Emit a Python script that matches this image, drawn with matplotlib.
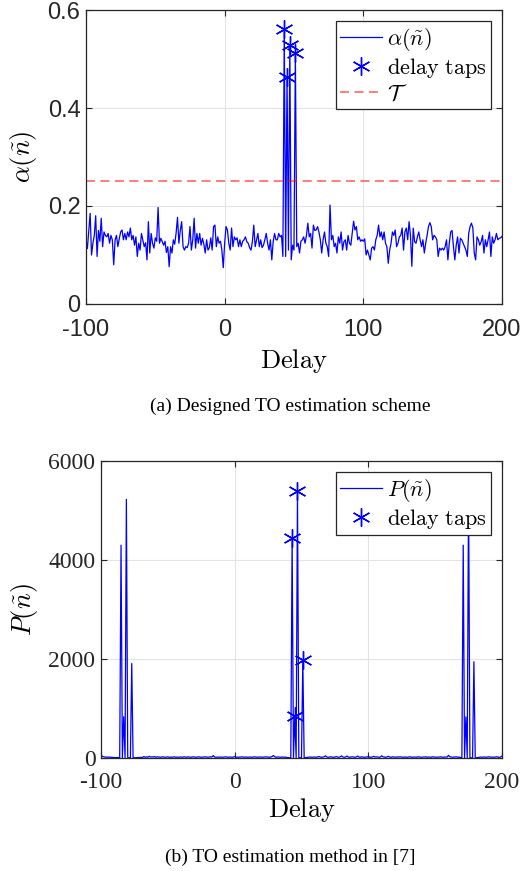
import matplotlib
matplotlib.use('Agg')
import matplotlib.pyplot as plt
import numpy as np

# =============================================================================
# Data
# =============================================================================
delay = np.arange(-100, 201)

# alpha(n~), designed scheme, delays -100 .. 200
alpha = [
    0.131, 0.113, 0.150, 0.185, 0.100, 0.124, 0.140, 0.180, 0.097, 0.150,  # -100
    0.128, 0.175, 0.117, 0.147, 0.140, 0.137, 0.144, 0.124, 0.140, 0.131,  # -90
    0.080, 0.131, 0.140, 0.117, 0.133, 0.147, 0.151, 0.131, 0.144, 0.131,  # -80
    0.147, 0.137, 0.155, 0.131, 0.140, 0.120, 0.137, 0.097, 0.124, 0.110,  # -70
    0.144, 0.131, 0.117, 0.125, 0.090, 0.168, 0.104, 0.144, 0.124, 0.114,  # -60
    0.135, 0.128, 0.197, 0.124, 0.134, 0.127, 0.120, 0.128, 0.105, 0.117,  # -50
    0.076, 0.117, 0.104, 0.131, 0.122, 0.145, 0.177, 0.124, 0.150, 0.168,  # -40
    0.117, 0.110, 0.117, 0.115, 0.124, 0.158, 0.110, 0.131, 0.175, 0.114,  # -30
    0.144, 0.124, 0.144, 0.120, 0.134, 0.122, 0.104, 0.131, 0.110, 0.115,  # -20
    0.135, 0.110, 0.158, 0.161, 0.117, 0.137, 0.124, 0.128, 0.110, 0.074,  # -10
    0.124, 0.158, 0.151, 0.124, 0.110, 0.155, 0.117, 0.137, 0.131, 0.135,  # 0
    0.117, 0.131, 0.117, 0.128, 0.131, 0.137, 0.127, 0.124, 0.115, 0.110,  # 10
    0.127, 0.161, 0.117, 0.131, 0.144, 0.117, 0.131, 0.115, 0.120, 0.131,  # 20
    0.144, 0.124, 0.110, 0.131, 0.090, 0.127, 0.144, 0.131, 0.131, 0.144,  # 30
    0.137, 0.140, 0.097, 0.561, 0.097, 0.464, 0.110, 0.529, 0.090, 0.120,  # 40
    0.110, 0.512, 0.117, 0.124, 0.104, 0.128, 0.131, 0.137, 0.124, 0.140,  # 50
    0.165, 0.137, 0.144, 0.114, 0.161, 0.150, 0.151, 0.158, 0.147, 0.131,  # 60
    0.104, 0.131, 0.147, 0.124, 0.117, 0.097, 0.202, 0.131, 0.140, 0.117,  # 70
    0.124, 0.104, 0.137, 0.124, 0.147, 0.110, 0.127, 0.131, 0.110, 0.140,  # 80
    0.124, 0.120, 0.144, 0.169, 0.151, 0.158, 0.131, 0.137, 0.128, 0.131,  # 90
    0.128, 0.133, 0.100, 0.110, 0.100, 0.090, 0.114, 0.117, 0.110, 0.131,  # 100
    0.140, 0.161, 0.137, 0.147, 0.131, 0.147, 0.124, 0.117, 0.083, 0.110,  # 110
    0.124, 0.147, 0.140, 0.151, 0.117, 0.124, 0.137, 0.140, 0.155, 0.110,  # 120
    0.147, 0.155, 0.131, 0.168, 0.140, 0.077, 0.155, 0.127, 0.124, 0.137,  # 130
    0.147, 0.131, 0.117, 0.131, 0.104, 0.124, 0.140, 0.158, 0.166, 0.158,  # 140
    0.131, 0.140, 0.137, 0.131, 0.097, 0.114, 0.110, 0.114, 0.110, 0.117,  # 150
    0.131, 0.090, 0.124, 0.147, 0.150, 0.117, 0.090, 0.120, 0.137, 0.104,  # 160
    0.134, 0.131, 0.124, 0.117, 0.110, 0.097, 0.144, 0.158, 0.165, 0.155,  # 170
    0.104, 0.090, 0.137, 0.131, 0.120, 0.127, 0.140, 0.104, 0.131, 0.117,  # 180
    0.131, 0.147, 0.097, 0.137, 0.124, 0.131, 0.144, 0.131, 0.134, 0.135,  # 190
    0.138,                                                                 # 200
]

# P(n~), method in [7], delays -100 .. 200
P = [
    60, 35, 25, 20, 20, 15, 20, 15, 15, 10,        # -100
    10, 10, 10, 10, 5, 4300, 5, 835, 5, 5225,      # -90
    5, 5, 5, 1910, 5, 5, 5, 10, 10, 10,            # -80
    15, 10, 30, 15, 25, 15, 35, 20, 25, 20,        # -70
    30, 15, 25, 20, 20, 15, 25, 20, 15, 20,        # -60
    25, 15, 20, 15, 20, 25, 15, 20, 15, 20,        # -50
    20, 15, 25, 20, 15, 25, 20, 15, 20, 25,        # -40
    20, 15, 20, 25, 20, 15, 20, 20, 25, 20,        # -30
    15, 20, 25, 20, 50, 20, 15, 20, 15, 20,        # -20
    20, 15, 20, 25, 20, 15, 20, 20, 15, 20,        # -10
    30, 15, 20, 15, 20, 20, 25, 15, 20, 20,        # 0
    15, 20, 20, 15, 20, 25, 20, 15, 20, 20,        # 10
    20, 15, 20, 25, 20, 20, 15, 20, 30, 50,        # 20
    25, 15, 20, 20, 15, 20, 20, 15, 20, 10,        # 30
    10, 5, 5, 4438, 5, 850, 5, 5400, 5, 5,         # 40
    5, 1980, 5, 10, 10, 15, 20, 20, 15, 20,        # 50
    20, 15, 20, 30, 20, 15, 20, 25, 45, 20,        # 60
    15, 20, 25, 20, 15, 20, 30, 20, 15, 25,        # 70
    45, 20, 15, 20, 40, 20, 15, 20, 25, 20,        # 80
    15, 20, 40, 20, 15, 25, 20, 15, 20, 20,        # 90
    30, 20, 15, 20, 35, 20, 25, 20, 15, 20,        # 100
    45, 25, 20, 15, 20, 35, 20, 15, 25, 20,        # 110
    20, 15, 25, 20, 25, 20, 15, 20, 20, 15,        # 120
    20, 25, 20, 15, 20, 20, 15, 25, 20, 20,        # 130
    15, 20, 20, 25, 15, 20, 20, 15, 25, 20,        # 140
    20, 15, 20, 20, 25, 20, 15, 20, 20, 20,        # 150
    55, 25, 20, 15, 20, 20, 25, 15, 20, 10,        # 160
    5, 4300, 5, 830, 5, 5400, 5, 5, 5, 1945,       # 170
    5, 5, 10, 15, 20, 15, 20, 20, 15, 20,          # 180
    25, 20, 15, 20, 15, 20, 25, 20, 15, 20,        # 190
    40,                                            # 200
]

taps = [43, 45, 47, 51]
threshold = 0.25

xticks = [-100, 0, 100, 200]
yticks_a = [0, 0.2, 0.4, 0.6]
yticklabels_a = ['0', '0.2', '0.4', '0.6']
yticks_b = [0, 2000, 4000, 6000]

captions = ['(a) Designed TO estimation scheme', '(b) TO estimation method in [7]']

# =============================================================================
# Plot
# =============================================================================
plt.rcParams['mathtext.fontset'] = 'cm'

alpha = np.array(alpha)
P = np.array(P)
tap_idx = [t - delay[0] for t in taps]

fig = plt.figure(figsize=(5.23, 8.71), dpi=100)

blue = '#0000ff'
grid_c = '#e3e3e3'
ast = (6, 2, 0)

# -- top --
ax1 = fig.add_axes([0.1644, 0.651, 0.7954, 0.3375])
ax1.plot(delay, alpha, color=blue, lw=0.9, label=r'$\alpha(\tilde{n})$')
ax1.plot(delay[tap_idx], alpha[tap_idx], ls='none', marker=ast, ms=13,
         mec=blue, mew=1.0, color=blue, label=r'$\mathrm{delay\ taps}$')
ax1.axhline(threshold, color='red', alpha=0.55, ls=(0, (5, 3)), lw=1.3,
            label=r'$\mathcal{T}$')
ax1.set_xlim(-100, 200)
ax1.set_ylim(0, 0.6)
ax1.set_xticks(xticks)
ax1.set_xticklabels([str(v) for v in xticks], family='Liberation Sans',
                    fontsize=17, color='#262626')
ax1.set_yticks(yticks_a)
ax1.set_yticklabels(yticklabels_a, family='Liberation Sans', fontsize=17,
                    color='#262626')
ax1.tick_params(axis='x', pad=11)
ax1.set_xlabel(r'$\mathrm{Delay}$', fontsize=19, labelpad=4)
ax1.set_ylabel(r'$\alpha(\tilde{n})$', fontsize=19, labelpad=6)

# -- bottom --
ax2 = fig.add_axes([0.1931, 0.1297, 0.7667, 0.341])
ax2.plot(delay, P, color=blue, lw=0.9, label=r'$P(\tilde{n})$')
ax2.plot(delay[tap_idx], P[tap_idx], ls='none', marker=ast, ms=13,
         mec=blue, mew=1.0, color=blue, label=r'$\mathrm{delay\ taps}$')
ax2.set_xlim(-100, 200)
ax2.set_ylim(0, 6000)
ax2.set_xticks(xticks)
ax2.set_xticklabels([str(v) for v in xticks], family='Liberation Serif',
                    fontsize=17)
ax2.set_yticks(yticks_b)
ax2.set_yticklabels([str(v) for v in yticks_b], family='Liberation Serif',
                    fontsize=17)
ax2.tick_params(axis='x', pad=10)
ax2.set_xlabel(r'$\mathrm{Delay}$', fontsize=19, labelpad=2)
ax2.set_ylabel(r'$P(\tilde{n})$', fontsize=19, labelpad=6)

for ax in (ax1, ax2):
    ax.grid(True, color=grid_c, lw=0.8)
    ax.set_axisbelow(True)
    ax.tick_params(direction='in', length=4, width=0.8, top=True, right=True,
                   colors='#262626')
    ax.tick_params(axis='y', pad=4)
    for s in ax.spines.values():
        s.set_color('#262626')
        s.set_linewidth(0.9)
    leg = ax.legend(loc='upper right', fontsize=16, frameon=True,
                    fancybox=False, framealpha=1.0, handlelength=1.9,
                    handletextpad=0.2, labelspacing=0.15, borderpad=0.2,
                    borderaxespad=0.5)
    leg.get_frame().set_edgecolor('#262626')
    leg.get_frame().set_linewidth(0.9)

fig.text(0.555, 1 - 406 / 871, captions[0], family='Liberation Serif',
         fontsize=14, ha='center', va='center')
fig.text(0.555, 1 - 857 / 871, captions[1], family='Liberation Serif',
         fontsize=14, ha='center', va='center')

fig.savefig('out.png', dpi=100)
